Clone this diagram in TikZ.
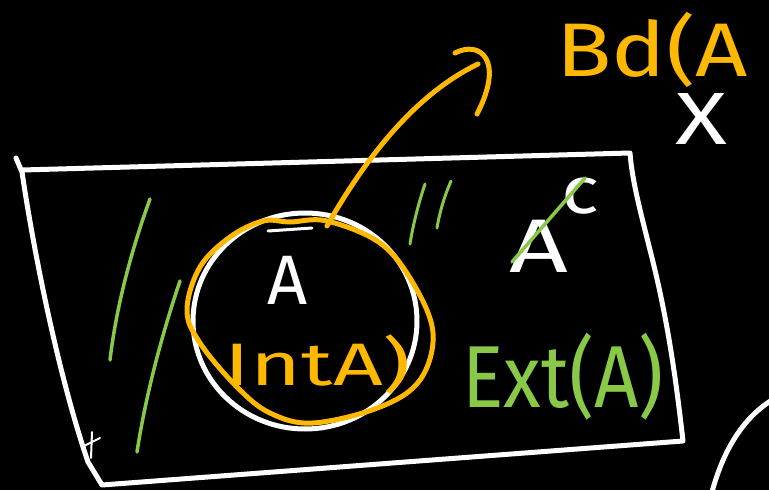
\documentclass[tikz,border=0pt]{standalone}
\usepackage{fontspec}
\setmainfont{Fira Sans}
\usetikzlibrary{shapes.geometric}
\definecolor{chalkorange}{RGB}{255,184,0}
\definecolor{chalkgreen}{RGB}{138,201,72}
\begin{document}
\begin{tikzpicture}[x=1pt,y=-1pt,line cap=round,line join=round,
  wline/.style={white,line width=5pt},
  oline/.style={chalkorange,line width=5pt},
  gline/.style={chalkgreen,line width=3.5pt},
  wtext/.style={text=white,inner sep=0pt},
  otext/.style={text=chalkorange,inner sep=0pt},
  gtext/.style={text=chalkgreen,inner sep=0pt}]
\fill[black] (0,0) rectangle (769,490);
\useasboundingbox (0,0) rectangle (769,490);
% space X (quadrilateral)
\draw[wline] (16,158) -- (22,172) .. controls (35,260) and (60,380) .. (88,462)
  -- (102,485) -- (683,441) .. controls (676,380) and (668,320) .. (650,250)
  .. controls (640,210) and (632,180) .. (630,153) -- (22,170);
% set A
\node[ellipse,draw=white,line width=5pt,minimum width=224pt,minimum height=216pt] (setA) at (305,321) {};
\draw[white,line width=3pt] (268,231) -- (312,228);
\draw[white,line width=2pt] (92,432) -- (91,458) (84,446) -- (100,438);
% interior outline (orange)
\draw[oline] plot[smooth cycle,tension=0.6] coordinates {
 (290,222) (327,221) (380,243) (413,283) (433,333) (420,380) (380,407)
 (313,423) (270,413) (237,387) (200,343) (187,310) (200,267) (230,237) (263,221)};
% labels
\node[wtext,font=\fontsize{70}{70}\selectfont] (labA) at (288,280) {A};
\node[otext] (labInt) at (318,364) {\scalebox{1.45}[1]{\fontsize{60}{60}\selectfont IntA)}};
\node[otext,anchor=base] (labBd) at (652,76) {\scalebox{1.2}[1]{\fontsize{76}{76}\selectfont Bd\smash{(}A}};
\node[wtext] (labX) at (701,119) {\scalebox{1.3}[1]{\fontsize{74}{74}\selectfont X}};
\node[wtext] (labAc) at (539,246) {\scalebox{1.35}[1]{\fontsize{76}{76}\selectfont A}};
\node[wtext] (labc) at (580,196) {\scalebox{1.2}[1]{\fontsize{66}{66}\selectfont c}};
\node[gtext] (labExt) at (563,377) {\scalebox{0.88}[1]{\fontsize{88}{88}\selectfont Ext(A)}};
% arrow to boundary
\coordinate (arrS) at (327,226);
\coordinate (arrE) at (478,64);
\draw[oline] (arrS) .. controls (370,150) and (420,92) .. (arrE);
\draw[oline] (455,53) .. controls (480,40) and (505,60) .. (477,114);
% green strokes
\draw[gline] (512,262) -- (585,178);
\draw[gline] (150,199) .. controls (135,240) and (117,300) .. (110,360);
\draw[gline] (180,281) .. controls (160,340) and (145,400) .. (137,452);
\draw[gline,line width=3pt] (425,184) .. controls (418,205) and (413,225) .. (410,244);
\draw[gline,line width=3pt] (451,181) .. controls (445,195) and (440,210) .. (437,228);
% other set (partial)
\draw[wline] (712,492) .. controls (722,455) and (740,420) .. (772,400);
\end{tikzpicture}
\end{document}
